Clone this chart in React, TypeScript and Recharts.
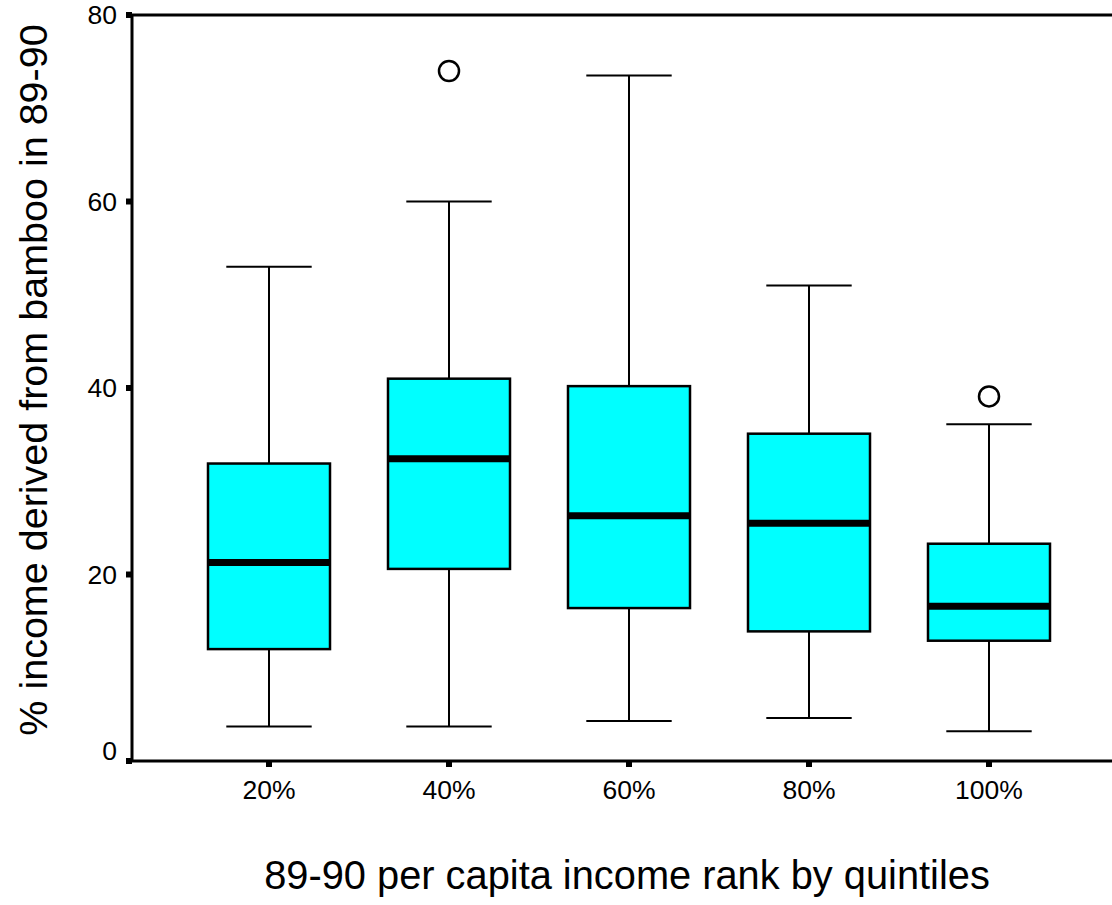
import React from 'react';
import { ComposedChart, Bar, Scatter, XAxis, YAxis, ReferenceLine } from 'recharts';

const categories = ['20%', '40%', '60%', '80%', '100%'];
const minValues = [3.7, 3.7, 4.3, 4.6, 3.2];
const q1Values = [12.0, 20.6, 16.4, 13.9, 12.9];
const medianValues = [21.3, 32.4, 26.3, 25.5, 16.6];
const q3Values = [31.9, 41.0, 40.2, 35.1, 23.3];
const maxValues = [53.0, 60.0, 73.5, 51.0, 36.1];
const outlierValues: (number | null)[] = [null, 74.0, null, null, 39.1];
const yTicks = [0, 20, 40, 60, 80];

const xTitle = '89-90 per capita income rank by quintiles';
const yTitle = '% income derived from bamboo in 89-90';

const FONT = '"Liberation Sans", Arial, sans-serif';

const data = categories.map((c, i) => ({
  category: c,
  range: [minValues[i], maxValues[i]],
  min: minValues[i],
  q1: q1Values[i],
  median: medianValues[i],
  q3: q3Values[i],
  max: maxValues[i],
  outlier: outlierValues[i],
}));

const BoxShape = (props: any) => {
  const { x, y, width, height, payload } = props;
  if (payload == null || !isFinite(y) || !isFinite(height)) return null;
  const { min, max, q1, median, q3 } = payload;
  const k = height / (max - min);
  const yOf = (v: number) => y + (max - v) * k;
  const cx = x + width / 2;
  const capHalf = width * 0.35;
  return (
    <g>
      <line x1={cx} x2={cx} y1={yOf(max)} y2={yOf(q3)} stroke="#000" strokeWidth={2} />
      <line x1={cx} x2={cx} y1={yOf(q1)} y2={yOf(min)} stroke="#000" strokeWidth={2} />
      <line x1={cx - capHalf} x2={cx + capHalf} y1={yOf(max)} y2={yOf(max)} stroke="#000" strokeWidth={2} />
      <line x1={cx - capHalf} x2={cx + capHalf} y1={yOf(min)} y2={yOf(min)} stroke="#000" strokeWidth={2} />
      <rect x={x} y={yOf(q3)} width={width} height={yOf(q1) - yOf(q3)} fill="#00FFFF" stroke="#000" strokeWidth={2.5} />
      <line x1={x} x2={x + width} y1={yOf(median)} y2={yOf(median)} stroke="#000" strokeWidth={7} />
    </g>
  );
};

const OutlierShape = (props: any) => {
  const { cx, cy, payload } = props;
  if (payload == null || payload.outlier == null || !isFinite(cy) || !isFinite(cx)) return null;
  return <circle cx={cx} cy={cy} r={10} fill="#fff" stroke="#000" strokeWidth={2.5} />;
};

const YTick = (props: any) => {
  const { x, y, payload } = props;
  const shift = payload.value === 0 ? -10 : 0;
  return (
    <text x={x} y={y + shift} dy="0.355em" textAnchor="end" fontSize={26.5} fontFamily={FONT} fill="#000">
      {payload.value}
    </text>
  );
};

const XTick = (props: any) => {
  const { x, y, payload } = props;
  return (
    <text x={x} y={y} dy="0.71em" textAnchor="middle" fontSize={26.5} fontFamily={FONT} fill="#000">
      {payload.value}
    </text>
  );
};

const YLabel = (props: any) => {
  const vb = props.viewBox || { x: 0, y: 15, width: 132, height: 746 };
  const lx = vb.x + 47;
  const ly = vb.y + vb.height / 2 - 8;
  return (
    <text
      x={lx}
      y={ly}
      textAnchor="middle"
      transform={`rotate(-90, ${lx}, ${ly})`}
      fontSize={39.5}
      fontFamily={FONT}
      fill="#000"
    >
      {yTitle}
    </text>
  );
};

const XLabel = (props: any) => {
  const vb = props.viewBox || { x: 132, y: 761, width: 980, height: 144 };
  return (
    <text
      x={vb.x + vb.width / 2 + 5}
      y={vb.y + 128}
      textAnchor="middle"
      fontSize={39.8}
      fontFamily={FONT}
      fill="#000"
    >
      {xTitle}
    </text>
  );
};

export default function App() {
  return (
    <div style={{ position: 'absolute', left: 0, top: 0, background: '#fff' }}>
      <ComposedChart
        width={1112}
        height={905}
        data={data}
        margin={{ top: 15, right: 0, bottom: 0, left: 0 }}
      >
        <XAxis
          dataKey="category"
          padding={{ left: 47, right: 33 }}
          height={144}
          axisLine={{ stroke: '#000', strokeWidth: 3 }}
          tickLine={{ stroke: '#000', strokeWidth: 6 }}
          tickSize={6}
          tickMargin={13}
          tick={<XTick />}
          label={<XLabel />}
        />
        <YAxis
          type="number"
          domain={[0, 80]}
          ticks={yTicks}
          width={132}
          axisLine={{ stroke: '#000', strokeWidth: 3 }}
          tickLine={{ stroke: '#000', strokeWidth: 6 }}
          tickSize={6}
          tickMargin={9}
          tick={<YTick />}
          label={<YLabel />}
        />
        <ReferenceLine y={80} stroke="#000" strokeWidth={3} />
        <Bar dataKey="range" barSize={122} shape={<BoxShape />} isAnimationActive={false} />
        <Scatter dataKey="outlier" shape={<OutlierShape />} isAnimationActive={false} />
      </ComposedChart>
    </div>
  );
}
